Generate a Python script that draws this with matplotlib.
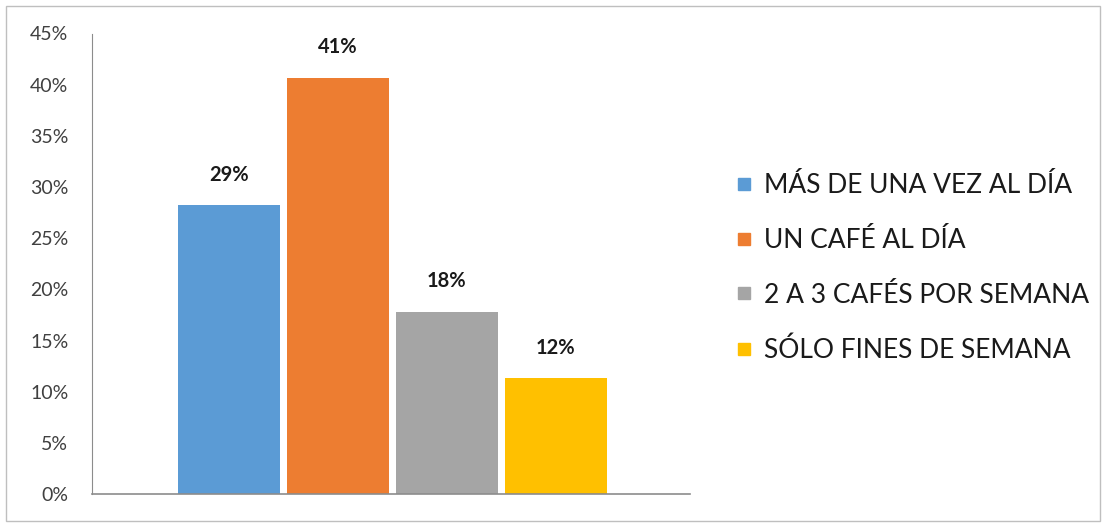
import matplotlib
matplotlib.use("Agg")
import matplotlib.pyplot as plt
from matplotlib.patches import Rectangle
from matplotlib.lines import Line2D

# data
categories = ["MÁS DE UNA VEZ AL DÍA", "UN CAFÉ AL DÍA",
              "2 A 3 CAFÉS POR SEMANA", "SÓLO FINES DE SEMANA"]
values = [0.282, 0.407, 0.178, 0.113]
value_labels = ["29%", "41%", "18%", "12%"]
colors = ["#5b9bd5", "#ed7d31", "#a5a5a5", "#ffc000"]
yticks = [0, 0.05, 0.10, 0.15, 0.20, 0.25, 0.30, 0.35, 0.40, 0.45]

plt.rcParams["font.family"] = ["Lato", "DejaVu Sans"]

fig = plt.figure(figsize=(11.07, 5.27), dpi=100)
ax = fig.add_axes([92 / 1107, 33 / 527, (690 - 92) / 1107, (494 - 33.5) / 527])

x = list(range(len(values)))
ax.bar(x, values, width=0.93, color=colors)

for xi, v, lab in zip(x, values, value_labels):
    ax.annotate(lab, (xi, v), xytext=(0, 15), textcoords="offset points",
                ha="center", va="bottom", fontsize=14.5, fontweight="bold",
                color="#1a1a1a")

ax.set_xlim(-1.257, 3 + 1.23)
ax.set_ylim(0, 0.45)
ax.set_yticks(yticks)
ax.set_yticklabels([f"{int(round(t * 100))}%" for t in yticks])
ax.tick_params(axis="y", length=0, pad=17, labelsize=14, labelcolor="#404040")
ax.set_xticks([])
for side in ["top", "right"]:
    ax.spines[side].set_visible(False)
ax.spines["left"].set_color("#8c8c8c")
ax.spines["bottom"].set_color("#8c8c8c")
ax.spines["bottom"].set_linewidth(1.2)

handles = [Line2D([], [], marker="s", linestyle="none", markersize=8,
                  markerfacecolor=c, markeredgecolor=c) for c in colors]
fig.legend(handles, categories, loc="center left",
           bbox_to_anchor=(707 / 1107, 1 - 268 / 527), frameon=False,
           fontsize=19, handletextpad=0.25, labelspacing=1.13,
           handlelength=1.0, labelcolor="#1a1a1a")

fig.patches.append(Rectangle((6 / 1107, 6 / 527), 1094 / 1107, 515 / 527,
                             transform=fig.transFigure, fill=False,
                             edgecolor="#bfbfbf", linewidth=1))

fig.savefig("out.png", dpi=100)
